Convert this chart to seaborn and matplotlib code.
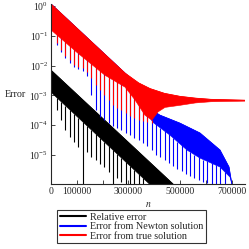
import numpy as np
import pandas as pd
import matplotlib
matplotlib.use("Agg")
import matplotlib.pyplot as plt
import seaborn as sns

# all error values are log10 exponents

# relative error (black)
rel_top_n = [0, 473000]
rel_top = [-2.15, -5.97]
rel_low_n = [0, 385000]
rel_low = [-2.89, -6.0]

# error from Newton solution (blue)
newton_top_n = [0, 287000, 340000, 384000, 422000, 500000, 577500, 655000, 690000, 701000]
newton_top = [0.07, -2.25, -2.7, -3.45, -3.66, -3.93, -4.26, -4.83, -5.4, -5.97]
newton_low_n = [0, 228700, 325600, 395000, 461000, 527000, 577500, 655000, 694000, 701000]
newton_low = [-0.7, -2.1, -2.85, -3.9, -4.33, -4.83, -5.10, -5.40, -5.74, -5.97]

# error from true solution (red)
true_top_n = [0, 287000, 340000, 384000, 440000, 500000, 560000, 620000, 752000]
true_top = [0.07, -2.25, -2.58, -2.77, -2.93, -3.03, -3.09, -3.13, -3.16]
true_low_n = [0, 100000, 209000, 287000, 325600, 364000, 391000, 415000, 442000,
              500000, 560000, 620000, 752000]
true_low = [-0.8, -1.55, -2.32, -2.72, -3.15, -3.66, -3.83, -3.55, -3.40,
            -3.33, -3.25, -3.21, -3.19]

# downward spikes of the oscillation
spike_n = [23000, 40000, 56000, 73000, 90000, 106000, 123000, 140000, 156000, 173000,
           190000, 206000, 223000, 240000, 256000, 273000, 290000, 306000, 323000, 340000,
           356000, 373000, 390000, 406000, 423000, 440000, 456000, 473000, 490000, 506000,
           523000, 540000, 556000, 573000, 590000, 606000, 623000, 640000, 656000, 673000,
           690000]
nan = np.nan
rel_spike = [-3.49, -3.83, -4.16, -4.40, -4.56, -4.73, -6.0, -4.90, -5.07, -5.17,
             -5.30, -5.40, -5.57, -6.0, -5.77, -5.91, -6.0, -6.0, -6.0, -6.0,
             -6.0] + [nan] * 20
newton_spike = [-1.31, -1.54, -1.74, -1.91, -2.05, -2.11, -2.18, -2.35, -2.99, -3.49,
                -3.72, -3.83, -3.93, -4.03, -4.09, -4.16, -4.26, -4.33, -4.43, -4.50,
                -4.60, -4.70, -4.83, -5.00, -5.07, -5.17, -5.27, -5.37, -5.47, -5.54,
                -5.64, -5.70, -5.77, -5.84, -5.91, -5.94, -6.0, -6.0, -6.0, -6.0, nan]
true_spike = [-1.24, -1.48, -1.68, -1.81, -1.98, -2.05, -2.08, -2.21, -2.42, -2.65,
              -2.82, -2.99, -3.15, -3.32, -3.42, -3.49, -3.59, -3.69, -3.76, -3.83,
              -3.86, -3.89, -3.93] + [nan] * 18

labels = ["Relative error", "Error from Newton solution", "Error from true solution"]
colors = ["black", "blue", "red"]

x_ticks = [0, 100000, 200000, 300000, 400000, 500000, 600000, 700000]
x_ticklabels = ["0", "100000", "", "300000", "", "500000", "", "700000"]
y_ticks = [1, 1e-1, 1e-2, 1e-3, 1e-4, 1e-5]

sns.set_style("ticks")
plt.rcParams['font.family'] = ['Liberation Serif', 'DejaVu Serif']
plt.rcParams['mathtext.fontset'] = 'stix'

fig = plt.figure(figsize=(2.49, 2.49), dpi=100)
ax = fig.add_axes([51 / 249, 65 / 249, 194 / 249, 180 / 249])
ax.set_yscale('log')

series = [
    (rel_top_n, rel_top, rel_low_n, rel_low, rel_spike),
    (newton_top_n, newton_top, newton_low_n, newton_low, newton_spike),
    (true_top_n, true_top, true_low_n, true_low, true_spike),
]

# later series are drawn over earlier ones, as in the original
for z, ((tn, tv, ln, lv, sp), col, lab) in enumerate(zip(series, colors, labels)):
    df = pd.DataFrame({"n": tn, "err": 10 ** np.array(tv)})
    sns.lineplot(data=df, x="n", y="err", color=col, lw=0.6, ax=ax, label=lab,
                 zorder=z + 1)
    poly_x = np.r_[tn, ln[::-1]]
    poly_y = 10 ** np.r_[tv, lv[::-1]]
    ax.fill(poly_x, poly_y, color=col, lw=0.4, zorder=z + 1)
    sp = np.array(sp)
    sn = np.array(spike_n)
    ok = ~np.isnan(sp)
    start = 10 ** np.interp(sn[ok], ln, lv)
    ax.vlines(sn[ok], start, 10 ** sp[ok], color=col, lw=0.8, zorder=z + 1)

ax.set_xlim(0, 752000)
ax.set_ylim(10 ** -5.97, 10 ** 0.07)
ax.set_xticks(x_ticks)
ax.set_xticklabels(x_ticklabels)
ax.set_yticks(y_ticks)
ax.yaxis.set_minor_locator(matplotlib.ticker.NullLocator())
ax.tick_params(labelsize=7, length=3, width=0.6, direction='in', pad=2)
sns.despine(ax=ax)
for s in ax.spines.values():
    s.set_linewidth(0.8)
    s.set_zorder(5)

ax.set_xlabel("$n$", fontsize=7)
ax.xaxis.set_label_coords(0.5, -0.09)
ax.set_ylabel("Error", rotation=0, fontsize=7.3, va='center', ha='center')
ax.yaxis.set_label_coords(-0.186, 0.5)

handles, labs = ax.get_legend_handles_labels()
ax.get_legend().remove()
leg = fig.legend(handles, labs, loc='upper left', bbox_to_anchor=(57 / 249, 1 - 210 / 249),
                 fontsize=7.3, frameon=True, fancybox=False, edgecolor='black',
                 handlelength=2.6, borderpad=0.25, labelspacing=0.05,
                 handletextpad=0.4, borderaxespad=0)
leg.get_frame().set_linewidth(0.8)
for h in leg.legend_handles:
    h.set_linewidth(1.5)

fig.savefig("out.png", dpi=100)
